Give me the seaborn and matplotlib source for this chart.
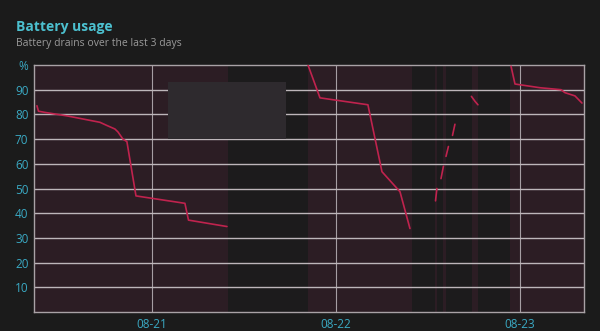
import numpy as np
import pandas as pd
import matplotlib
matplotlib.use("Agg")
import matplotlib.pyplot as plt
import matplotlib.dates as mdates
from matplotlib.patches import Rectangle
import seaborn as sns

# ---- data -----------------------------------------------------------------
seg_ids = [1]*14 + [2]*6 + [3]*2 + [4]*2 + [5]*2 + [6]*2 + [7]*3 + [8]*7
times = [
    "2023-08-20 09:00", "2023-08-20 09:12", "2023-08-20 10:03", "2023-08-20 12:55",
    "2023-08-20 17:13", "2023-08-20 18:08", "2023-08-20 19:10", "2023-08-20 19:34",
    "2023-08-20 20:13", "2023-08-20 20:44", "2023-08-20 21:55", "2023-08-21 04:18",
    "2023-08-21 04:46", "2023-08-21 09:47",
    "2023-08-21 20:21", "2023-08-21 21:55", "2023-08-22 04:10", "2023-08-22 06:00",
    "2023-08-22 08:21", "2023-08-22 09:39",
    "2023-08-22 12:59", "2023-08-22 13:10",
    "2023-08-22 13:42", "2023-08-22 14:01",
    "2023-08-22 14:21", "2023-08-22 14:40",
    "2023-08-22 15:12", "2023-08-22 15:31",
    "2023-08-22 17:40", "2023-08-22 18:08", "2023-08-22 18:31",
    "2023-08-22 22:50", "2023-08-22 23:21", "2023-08-23 02:36", "2023-08-23 05:21",
    "2023-08-23 05:52", "2023-08-23 07:10", "2023-08-23 08:05",
]
battery = [
    83.5, 81.3, 80.8, 79.4, 76.8, 75.5, 74.1, 72.9, 70.0, 69.0, 47.0, 44.0, 37.2, 34.6,
    100.0, 86.7, 83.9, 56.8, 48.7, 33.8,
    45.0, 50.0,
    54.0, 59.0,
    63.0, 67.0,
    71.5, 76.0,
    87.3, 85.3, 83.9,
    99.5, 92.3, 90.8, 90.0, 88.8, 87.5, 84.6,
]
# periods on battery (shaded background)
shade_start = ["2023-08-20 08:37", "2023-08-21 20:21", "2023-08-22 12:55",
               "2023-08-22 13:57", "2023-08-22 17:44", "2023-08-22 22:42"]
shade_end = ["2023-08-21 09:55", "2023-08-22 09:55", "2023-08-22 13:14",
             "2023-08-22 14:21", "2023-08-22 18:31", "2023-08-23 08:21"]
x_range = ["2023-08-20 08:37", "2023-08-23 08:21"]
date_ticks = ["2023-08-21", "2023-08-22", "2023-08-23"]
date_labels = ["08-21", "08-22", "08-23"]
y_ticks = [10, 20, 30, 40, 50, 60, 70, 80, 90, 100]
y_labels = ["10", "20", "30", "40", "50", "60", "70", "80", "90", "%"]

title = "Battery usage"
subtitle = "Battery drains over the last 3 days"

# ---- style ----------------------------------------------------------------
FIG_BG = "#1b1b1b"
AX_BG = "#1c1b1c"
SHADE = "#2c1d24"
GRID = "#bdb6ba"
CYAN = "#3aa9c3"
LINE = "#c0234e"

sns.set_theme(style="dark")
plt.rcParams["font.family"] = ["Open Sans", "DejaVu Sans"]

df = pd.DataFrame({"time": pd.to_datetime(times), "battery": battery, "seg": seg_ids})

fig = plt.figure(figsize=(6.0, 3.31), dpi=100, facecolor=FIG_BG)
ax = fig.add_axes([34/600, 1-312/331, 550/600, 247/331])
ax.set_facecolor(AX_BG)

for s, e in zip(shade_start, shade_end):
    ax.axvspan(pd.Timestamp(s), pd.Timestamp(e), color=SHADE, lw=0, zorder=0)

for yv in y_ticks[:-1]:
    ax.axhline(yv, color=GRID, lw=1.0, zorder=1)
for d in date_ticks:
    ax.axvline(pd.Timestamp(d), color=GRID, lw=0.8, alpha=0.85, zorder=1)

sns.lineplot(data=df, x="time", y="battery", units="seg", estimator=None,
             color=LINE, lw=1.2, ax=ax, zorder=3, legend=False)

ax.set_xlim(pd.Timestamp(x_range[0]), pd.Timestamp(x_range[1]))
ax.set_ylim(0, 100)
ax.set_xticks([pd.Timestamp(d) for d in date_ticks])
ax.set_xticklabels(date_labels)
ax.set_yticks(y_ticks)
ax.set_yticklabels(y_labels)
ax.tick_params(axis="both", colors=CYAN, labelsize=8.5, length=0, pad=4)
ax.set_xlabel("")
ax.set_ylabel("")
ax.grid(False)
for sp in ax.spines.values():
    sp.set_visible(True)
    sp.set_color("#a9a2a6")
    sp.set_linewidth(1.0)

# tooltip-like box
ax.add_patch(Rectangle(((168-34)/550, (312-139)/247), (286-168)/550, (139-82)/247,
                       transform=ax.transAxes, facecolor="#2e2a2e", edgecolor="none",
                       zorder=5))

fig.text(16/600, 1-31/331, title, color="#4cc0cf", fontsize=10, fontweight="bold",
         ha="left", va="baseline")
fig.text(16/600, 1-46/331, subtitle, color="#9a9a9a", fontsize=7.5,
         ha="left", va="baseline")

fig.savefig("out.png", dpi=100, facecolor=FIG_BG)
